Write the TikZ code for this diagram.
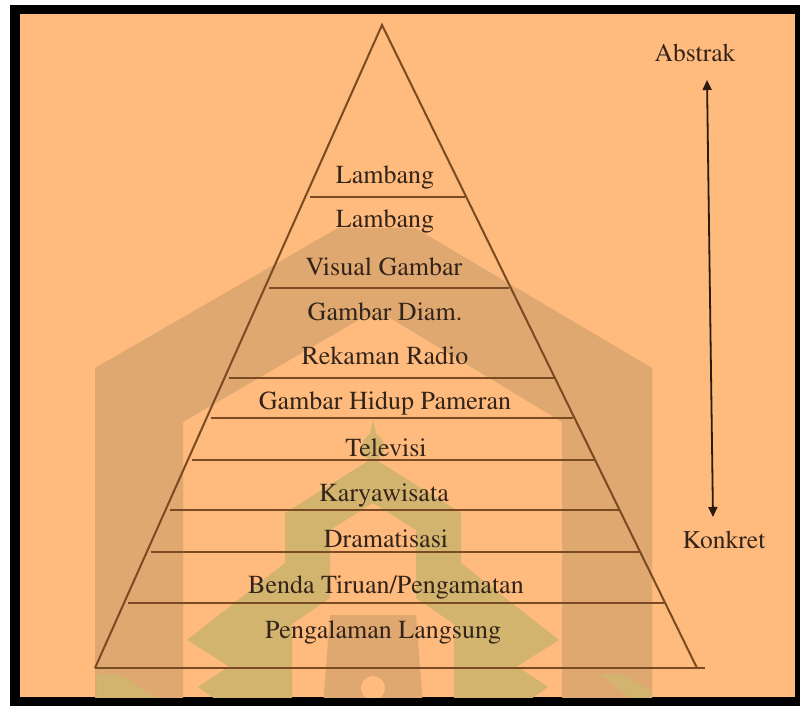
\documentclass[tikz,border=0pt]{standalone}
\usepackage[T1]{fontenc}
\renewcommand{\rmdefault}{ptm}
\usetikzlibrary{arrows.meta}
\definecolor{bgorange}{HTML}{FFBA7D}
\definecolor{tanband}{HTML}{DEA870}
\definecolor{oliveband}{HTML}{D2B46E}
\definecolor{linebrown}{HTML}{7A4A22}
\definecolor{txtdark}{HTML}{33241A}
\definecolor{arrowdark}{HTML}{2A1A10}
\tikzset{
  lvl/.style={text=txtdark, inner sep=0pt, anchor=base, font=\fontsize{26}{30}\selectfont},
  sidelbl/.style={text=txtdark, inner sep=0pt, anchor=base, font=\fontsize{25.5}{30}\selectfont},
  tri/.style={draw=linebrown, line width=2pt, line join=miter},
  sep/.style={draw=linebrown, line width=2pt},
  axis/.style={draw=arrowdark, line width=1.8pt, {Triangle[length=10pt,width=9pt]}-{Triangle[length=10pt,width=9pt]}},
  wmtan/.style={fill=tanband},
  wmolive/.style={fill=oliveband},
}
\begin{document}
\begin{tikzpicture}[x=1pt,y=-1pt]
\useasboundingbox (0,0) rectangle (800,706);
\fill[white] (0,0) rectangle (800,706);
\fill[black] (10,5) rectangle (800,706);
\fill[bgorange] (20,14) rectangle (795,697);
% watermark (approximate)
\begin{scope}
\clip (20,14) rectangle (795,697);
\fill[wmtan, even odd rule] (95,706) -- (95,368) -- (338,228) -- (415,228) -- (652,368) -- (652,706) -- cycle
  (183,706) -- (183,422) -- (362,318) -- (390,318) -- (562,422) -- (562,706) -- cycle;
% inner house band with chevrons
\fill[wmolive, even odd rule] (285,563) -- (285,513) -- (373,458) -- (461,513) -- (461,563)
   -- (559,640) -- (516,667) -- (416,598) -- (416,530) -- (373,503) -- (330,530) -- (330,598)
   -- (230,667) -- (187,640) -- cycle;
% lower chevrons
\fill[wmolive] (292,624) -- (198,687) -- (225,706) -- (300,706) -- (292,700) -- cycle;
\fill[wmolive] (454,624) -- (548,687) -- (521,706) -- (446,706) -- (454,700) -- cycle;
\fill[wmolive] (97,674) -- (118,674) -- (170,706) -- (97,706) -- cycle;
\fill[wmolive] (600,674) -- (622,674) -- (652,692) -- (652,706) -- (640,706) -- cycle;
% door
\fill[wmtan] (330,615) -- (416,615) -- (423,706) -- (323,706) -- cycle;
\fill[bgorange] (373,688) circle (12);
% dome
\fill[wmolive] (373,420) -- (376,434) .. controls (388,442) and (387,455) .. (373,462) .. controls (359,455) and (358,442) .. (370,434) -- cycle;
\end{scope}
% pyramid
\coordinate (apex) at (382,25);
\coordinate (bl) at (95,668);
\coordinate (br) at (697,668);
\coordinate (be) at (705,668);
\draw[tri] (bl) -- (apex) -- (br);
\draw[sep] (bl) -- (be);
\foreach \y in {197,288,378,418,460,510,552,603}{
  \draw[sep] ({383-0.448*(\y-25)+4},\y) -- ({382+0.492*(\y-25)-2},\y);
}
\node[lvl] (l1) at (385,183) {Lambang};
\node[lvl] (l2) at (385,227) {Lambang};
\node[lvl] (l3) at (384,275) {Visual Gambar};
\node[lvl] (l4) at (385,320) {Gambar Diam.};
\node[lvl] (l5) at (385,364) {Rekaman Radio};
\node[lvl] (l6) at (385,409) {Gambar Hidup Pameran};
\node[lvl] (l7) at (386,456) {Televisi};
\node[lvl] (l8) at (384,501) {Karyawisata};
\node[lvl] (l9) at (386,547) {Dramatisasi};
\node[lvl] (l10) at (386,593) {Benda Tiruan/Pengamatan};
\node[lvl] (l11) at (383,638) {Pengalaman Langsung};
% axis
\node[sidelbl] (abs) at (695,62) {Abstrak};
\node[sidelbl] (kon) at (724,548) {Konkret};
\coordinate (atop) at (707,80);
\coordinate (abot) at (713,517);
\draw[axis] (atop) -- (abot);
\end{tikzpicture}
\end{document}
